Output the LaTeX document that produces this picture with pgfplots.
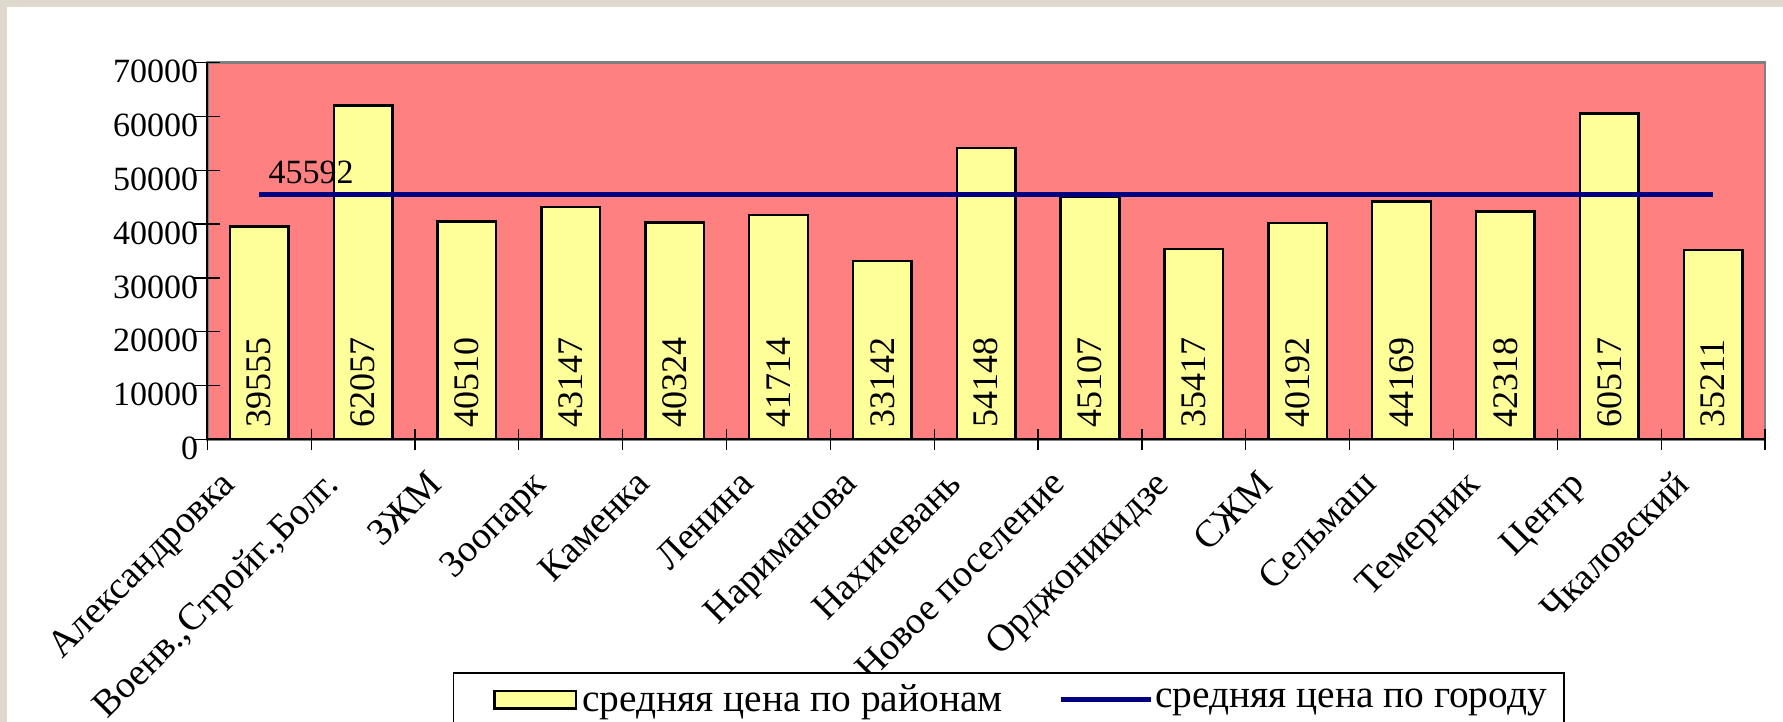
\documentclass[border=0pt]{standalone}
\usepackage{fontspec}
\setmainfont{Liberation Serif}
\usepackage{pgfplots}
\usepackage{pgfplotstable}
\pgfplotsset{compat=1.18}

\definecolor{paper}{RGB}{222,217,204}
\definecolor{plotPink}{RGB}{255,128,128}
\definecolor{barYellow}{RGB}{255,255,153}
\definecolor{cityNavy}{RGB}{0,0,128}
\definecolor{frameGrey}{RGB}{128,128,128}

% average price by district
\pgfplotstableread{
x y
0 39555
1 62057
2 40510
3 43147
4 40324
5 41714
6 33142
7 54148
8 45107
9 35417
10 40192
11 44169
12 42318
13 60517
14 35211
}\districts

\begin{document}
\begin{tikzpicture}
% 1783 x 722 px, 0.5pt per px
\useasboundingbox (0,0) rectangle (891.5pt,361pt);
\clip (0,0) rectangle (891.5pt,361pt);
\fill[paper] (0,0) rectangle (891.5pt,361pt);
\fill[white] (3.5pt,0) rectangle (891.5pt,357.5pt);

\begin{axis}[
    at={(103.65pt,141.35pt)}, anchor=south west,
    scale only axis, width=778.85pt, height=188.3pt,
    xmin=-0.5, xmax=14.5, ymin=0, ymax=70000,
    enlargelimits=false,
    axis lines*=left,
    every non boxed x axis/.append style={x axis line style={-}},
    every non boxed y axis/.append style={y axis line style={-}},
    axis line style={draw=black, line width=1pt},
    axis background/.style={fill=plotPink, draw=frameGrey, line width=1.3pt},
    scaled y ticks=false,
    /pgf/number format/.cd, 1000 sep={}, assume math mode=true,
    /pgfplots/.cd,
    ytick={0,10000,...,70000},
    tick align=center,
    major tick length=13pt,
    ytick style={draw=black, line width=0.75pt},
    yticklabel style={font=\fontsize{17}{19}\selectfont, xshift=5.5pt, yshift=-4.5pt},
    xtick={0,...,14},
    major x tick style={draw=none},
    minor xtick={-0.5,0.5,...,14.5},
    minor tick length=10.5pt,
    minor x tick style={draw=black, line width=0.6pt},
    xticklabels={Александровка, {Военв.,Стройг.,Болг.}, ЗЖМ, Зоопарк, Каменка,
        Ленина, Нариманова, Нахичевань, Новое поселение, Орджоникидзе, СЖМ,
        Сельмаш, Темерник, Центр, Чкаловский},
    xticklabel style={font=\fontsize{19}{22}\selectfont, rotate=45,
        anchor=north east, inner sep=0pt, xshift=-20pt, yshift=9pt},
    legend columns=2,
    legend style={at={(0.15754,-0.6179)}, anchor=north west,
        draw=black, line width=0.75pt, fill=white,
        inner xsep=0pt, inner ysep=6pt, column sep=0pt,
        nodes={inner sep=0pt, anchor=west},
        font=\fontsize{19.7}{22}\selectfont},
]

\addplot[ybar, bar width=29.3pt, fill=barYellow, draw=black, line width=1.25pt,
    legend image code/.code={
        \path (-19.15pt,0pt);
        \draw[fill=barYellow, draw=black, line width=1.25pt]
            (0.625pt,-4.4pt) rectangle (41.4pt,4.4pt);
    }]
    table[x=x, y=y] {\districts};
\addlegendentry{\makebox[240.5pt][l]{\hspace*{2.5pt}средняя цена по районам}}

\addplot[cityNavy, line width=2.5pt,
    legend image code/.code={
        \draw[cityNavy, line width=2.5pt] (0pt,0pt) -- (45pt,0pt);
    }]
    coordinates {(0,45592) (14,45592)}
    node[pos=0, anchor=base west, inner sep=0pt, xshift=3.5pt, yshift=5.5pt,
        text=black, font=\fontsize{17}{19}\selectfont] {45592};
\addlegendentry{\makebox[205.5pt][l]{\hspace*{1pt}средняя цена по городу}}

% values written upright inside each bar
\addplot[draw=none, forget plot, nodes near coords, point meta=\thisrow{y},
    every node near coord/.append style={rotate=90, anchor=west, text=black,
        inner xsep=5.5pt, inner ysep=0pt, font=\fontsize{18}{20}\selectfont}]
    table[x=x, y expr=0] {\districts};

\end{axis}
\end{tikzpicture}
\end{document}
